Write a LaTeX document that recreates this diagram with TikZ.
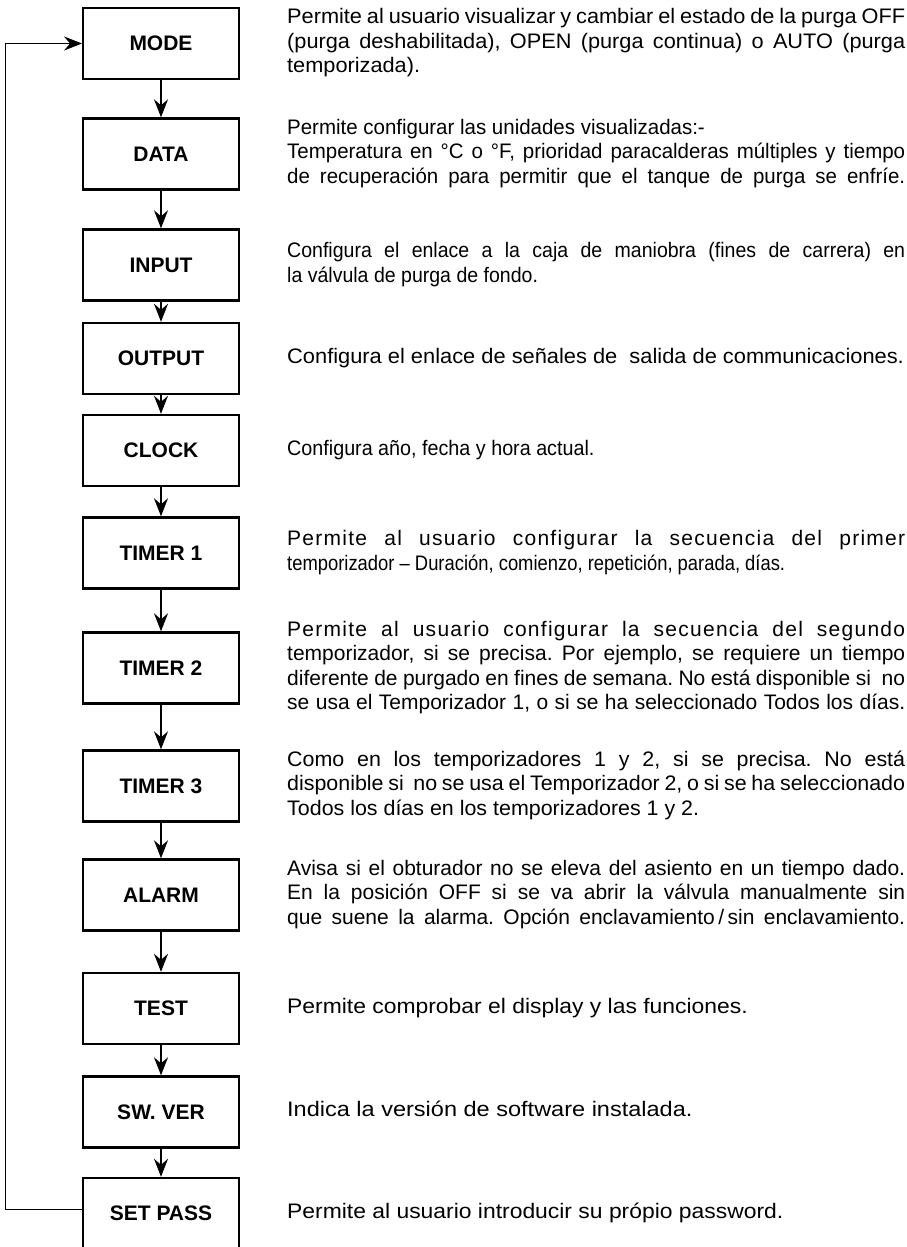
\documentclass[tikz,border=0pt]{standalone}
\usepackage{fontspec}
\setmainfont{Liberation Sans}
\usetikzlibrary{arrows.meta}
\frenchspacing
\tikzset{
  stepbox/.style={draw, line width=2.4pt, minimum width=155.5pt, minimum height=71pt, inner sep=0pt,
    font=\fontsize{21}{24}\selectfont\bfseries},
  desc/.style={anchor=west, inner sep=0pt},
  flow/.style={line width=1.3pt, -{Stealth[length=18pt,width=14pt,inset=6pt]}},
  loopline/.style={line width=1pt, -{Stealth[length=18pt,width=14pt,inset=6pt]}},
}
% #1 = horizontal stretch of the glyphs, #2 = text
\newcommand{\dtext}[2]{\parbox[c]{618pt}{\fontsize{21}{24.5}\selectfont\addfontfeatures{FakeStretch=#1}\frenchspacing\strut #2\strut}}
\newcommand{\dfull}[2]{\parbox[c]{618pt}{\fontsize{21}{24.5}\selectfont\addfontfeatures{FakeStretch=#1}\frenchspacing\parfillskip=0pt \strut #2\strut}}
\newcommand{\spaced}[1]{{\addfontfeatures{LetterSpace=6}#1}}
\newcommand{\narrowed}[1]{{\addfontfeatures{FakeStretch=0.876}#1}}
\begin{document}
\begin{tikzpicture}[x=1pt,y=-1pt]
\useasboundingbox (0,0) rectangle (907,1247);
% boxes
\node[stepbox] (mode)  at (161,43.5)  {MODE};
\node[stepbox] (data)  at (161,154)   {DATA};
\node[stepbox] (input) at (161,265)   {INPUT};
\node[stepbox] (output) at (161,358.5) {OUTPUT};
\node[stepbox] (clock) at (161,450.5) {CLOCK};
\node[stepbox] (t1)    at (161,553)   {TIMER 1};
\node[stepbox] (t2)    at (161,668)   {TIMER 2};
\node[stepbox] (t3)    at (161,786)   {TIMER 3};
\node[stepbox] (alarm) at (161,895)   {ALARM};
\node[stepbox] (test)  at (161,1008.5) {TEST};
\node[stepbox] (swver) at (161,1112)  {SW. VER};
\node[stepbox] (sp)    at (161,1213.5) {SET PASS};
% descriptions
\node[desc] (dmode) at (287,43.5) {\dtext{1.035}{Permite al usuario visualizar y cambiar el estado de la purga OFF\linebreak (purga deshabilitada), OPEN (purga continua) o AUTO (purga\linebreak temporizada).}};
\node[desc] (ddata) at (287,154) {\dfull{0.975}{Permite configurar las unidades visualizadas:-\newline Temperatura en °C o °F, prioridad paracalderas múltiples y tiempo\linebreak de recuperación para permitir que el tanque de purga se enfríe.}};
\node[desc] (dinput) at (287,265) {\dtext{0.93}{Configura el enlace a la caja de maniobra (fines de carrera) en\linebreak la válvula de purga de fondo.}};
\node[desc] (doutput) at (287,358.5) {\dtext{1.04}{Configura el enlace de señales de\ \ salida de communicaciones.}};
\node[desc] (dclock) at (287,450.5) {\dtext{0.94}{Configura año, fecha y hora actual.}};
\node[desc] (dt1) at (287,553) {\dtext{1.0}{\spaced{Permite al usuario configurar la secuencia del primer}\linebreak \narrowed{temporizador – Duración, comienzo, repetición, parada, días.}}};
\node[desc] (dt2) at (287,668) {\dfull{1.0}{\spaced{Permite al usuario configurar la secuencia del segundo}\linebreak temporizador, si se precisa. Por ejemplo, se requiere un tiempo\linebreak diferente de purgado en fines de semana. No está disponible si\ \ no\linebreak se usa el Temporizador 1, o si se ha seleccionado Todos los días.}};
\node[desc] (dt3) at (287,786) {\dtext{1.02}{Como en los temporizadores 1 y 2, si se precisa. No está\linebreak disponible si\ \ no se usa el Temporizador 2, o si se ha seleccionado\linebreak Todos los días en los temporizadores 1 y 2.}};
\node[desc] (dalarm) at (287,895) {\dfull{1.0}{Avisa si el obturador no se eleva del asiento en un tiempo dado.\linebreak En la posición OFF si se va abrir la válvula manualmente sin\linebreak que suene la alarma. Opción enclavamiento\,/\,sin enclavamiento.}};
\node[desc] (dtest) at (287,1008.5) {\dtext{1.09}{Permite comprobar el display y las funciones.}};
\node[desc] (dswver) at (287,1112) {\dtext{1.12}{Indica la versión de software instalada.}};
\node[desc] (dsp) at (287,1213.5) {\dtext{1.09}{Permite al usuario introducir su própio password.}};
% connectors
\draw[flow] (mode.south) -- (data.north);
\draw[flow] (data.south) -- (input.north);
\draw[flow] (input.south) -- (output.north);
\draw[flow] (output.south) -- (clock.north);
\draw[flow] (clock.south) -- (t1.north);
\draw[flow] (t1.south) -- (t2.north);
\draw[flow] (t2.south) -- (t3.north);
\draw[flow] (t3.south) -- (alarm.north);
\draw[flow] (alarm.south) -- (test.north);
\draw[flow] (test.south) -- (swver.north);
\draw[flow] (swver.south) -- (sp.north);
% loop back
\coordinate (lb) at (5,1209.5);
\coordinate (lt) at (5,43.5);
\draw[loopline] ([yshift=4pt]sp.west) -- (lb) -- (lt) -- (mode.west);
\end{tikzpicture}
\end{document}
